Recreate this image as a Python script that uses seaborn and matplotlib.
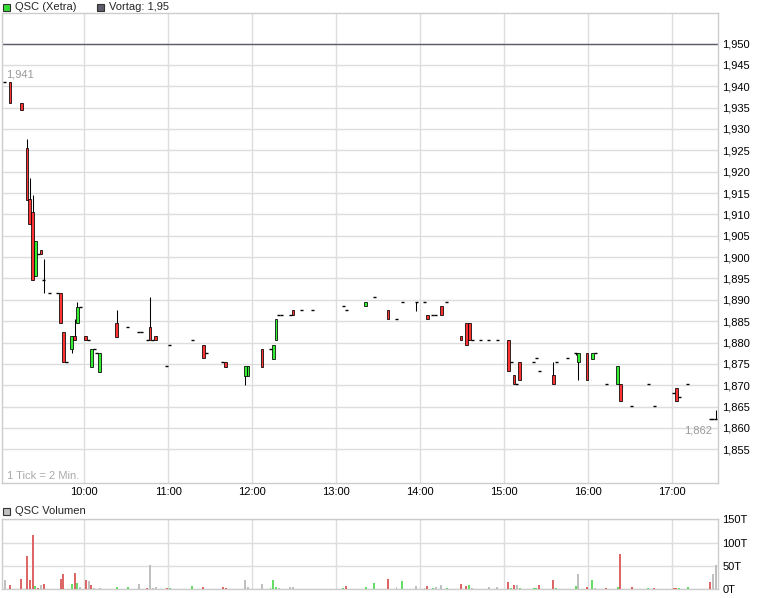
#!/usr/bin/env python3
# coding: utf-8

import matplotlib.pyplot as plt
import matplotlib.patches as mpatches
import seaborn as sns
import pandas as pd

plt.switch_backend('Agg')

# 2-minute bars (start time), QSC Xetra intraday
bar_time = ['09:02', '09:06', '09:14', '09:18', '09:20', '09:22', '09:24', '09:26', '09:28', '09:30',
            '09:34', '09:40', '09:42', '09:44', '09:46', '09:50', '09:52', '09:54', '09:56', '10:00',
            '10:02', '10:04', '10:06', '10:08', '10:10', '10:22', '10:30', '10:38', '10:40', '10:44',
            '10:46', '10:48', '10:50', '10:58', '11:00', '11:16', '11:24', '11:26', '11:38', '11:40',
            '11:54', '11:56', '12:06', '12:12', '12:14', '12:16', '12:18', '12:20', '12:26', '12:28',
            '12:34', '12:42', '13:04', '13:06', '13:20', '13:26', '13:36', '13:42', '13:46', '13:56',
            '14:02', '14:04', '14:08', '14:10', '14:14', '14:18', '14:28', '14:32', '14:34', '14:36',
            '14:42', '14:48', '14:54', '15:02', '15:04', '15:06', '15:08', '15:10', '15:20', '15:22',
            '15:24', '15:34', '15:36', '15:44', '15:50', '15:52', '15:58', '16:02', '16:04', '16:12',
            '16:20', '16:22', '16:30', '16:42', '16:46', '17:00', '17:02', '17:04', '17:10', '17:26',
            '17:28', '17:30']
price_open = [1.941, 1.941, 1.936, 1.9255, 1.9136, 1.9105, 1.8955, 1.9007, 1.9017, 1.8946,
              1.8915, 1.8915, 1.8915, 1.8824, 1.8754, 1.8784, 1.8815, 1.8845, 1.8884, 1.8815,
              1.8805, 1.8743, 1.8784, 1.8775, 1.8732, 1.8845, 1.8836, 1.8824, 1.8824, 1.8805,
              1.8836, 1.8805, 1.8815, 1.8744, 1.8794, 1.8805, 1.8794, 1.8775, 1.8754, 1.8754,
              1.8722, 1.8722, 1.8785, 1.8784, 1.8762, 1.8805, 1.8864, 1.8864, 1.8864, 1.8875,
              1.8875, 1.8875, 1.8885, 1.8875, 1.8885, 1.8906, 1.8875, 1.8854, 1.8894, 1.8894,
              1.8894, 1.8864, 1.8864, 1.8864, 1.8885, 1.8894, 1.8815, 1.8845, 1.8845, 1.8805,
              1.8805, 1.8805, 1.8805, 1.8805, 1.8754, 1.8723, 1.8702, 1.8754, 1.8754, 1.8764,
              1.8733, 1.8723, 1.8754, 1.8764, 1.8775, 1.8754, 1.8775, 1.8762, 1.8775, 1.8702,
              1.8702, 1.8702, 1.8651, 1.8702, 1.8651, 1.8681, 1.8693, 1.8672, 1.8702, 1.862,
              1.862, 1.862]
price_high = [1.941, 1.941, 1.936, 1.9276, 1.9186, 1.9145, 1.9038, 1.9007, 1.9017, 1.8996,
              1.8915, 1.8915, 1.8915, 1.8824, 1.8754, 1.8815, 1.8854, 1.8894, 1.8884, 1.8815,
              1.8805, 1.8784, 1.8784, 1.8775, 1.8775, 1.8876, 1.8836, 1.8824, 1.8824, 1.8805,
              1.8907, 1.8805, 1.8815, 1.8744, 1.8794, 1.8805, 1.8794, 1.8775, 1.8754, 1.8754,
              1.8745, 1.8745, 1.8785, 1.8784, 1.8794, 1.8854, 1.8864, 1.8864, 1.8864, 1.8875,
              1.8875, 1.8875, 1.8885, 1.8875, 1.8894, 1.8906, 1.8875, 1.8854, 1.8894, 1.8894,
              1.8894, 1.8864, 1.8864, 1.8864, 1.8885, 1.8894, 1.8815, 1.8845, 1.8845, 1.8805,
              1.8805, 1.8805, 1.8805, 1.8805, 1.8754, 1.8723, 1.8702, 1.8754, 1.8754, 1.8764,
              1.8733, 1.8754, 1.8754, 1.8764, 1.8775, 1.8775, 1.8775, 1.8775, 1.8775, 1.8702,
              1.8744, 1.8702, 1.8651, 1.8702, 1.8651, 1.8681, 1.8693, 1.8672, 1.8702, 1.862,
              1.862, 1.8642]
price_low = [1.941, 1.936, 1.9345, 1.9134, 1.9077, 1.8946, 1.8955, 1.9007, 1.9007, 1.8915,
             1.8915, 1.8915, 1.8845, 1.8754, 1.8754, 1.8775, 1.8805, 1.8845, 1.8884, 1.8805,
             1.8805, 1.8743, 1.8784, 1.8775, 1.8732, 1.8814, 1.8836, 1.8824, 1.8824, 1.8805,
             1.8805, 1.8805, 1.8805, 1.8744, 1.8794, 1.8805, 1.8763, 1.8775, 1.8754, 1.8743,
             1.8701, 1.8722, 1.8743, 1.8784, 1.8762, 1.8805, 1.8864, 1.8864, 1.8864, 1.8864,
             1.8875, 1.8875, 1.8885, 1.8875, 1.8885, 1.8906, 1.8854, 1.8854, 1.8894, 1.8874,
             1.8894, 1.8854, 1.8864, 1.8864, 1.8864, 1.8894, 1.8805, 1.8794, 1.8805, 1.8805,
             1.8805, 1.8805, 1.8805, 1.8733, 1.8754, 1.8702, 1.8702, 1.8712, 1.8754, 1.8764,
             1.8733, 1.8702, 1.8754, 1.8764, 1.8770, 1.8712, 1.8712, 1.8762, 1.8775, 1.8702,
             1.8702, 1.8662, 1.8651, 1.8702, 1.8651, 1.8681, 1.8662, 1.8672, 1.8702, 1.862,
             1.862, 1.862]
price_close = [1.941, 1.936, 1.9345, 1.9134, 1.9077, 1.8946, 1.9038, 1.9007, 1.9007, 1.8946,
               1.8915, 1.8915, 1.8845, 1.8754, 1.8754, 1.8815, 1.8805, 1.8884, 1.8884, 1.8805,
               1.8805, 1.8784, 1.8784, 1.8775, 1.8775, 1.8814, 1.8836, 1.8824, 1.8824, 1.8805,
               1.8805, 1.8805, 1.8805, 1.8744, 1.8794, 1.8805, 1.8763, 1.8775, 1.8754, 1.8743,
               1.8745, 1.8745, 1.8743, 1.8784, 1.8794, 1.8854, 1.8864, 1.8864, 1.8864, 1.8864,
               1.8875, 1.8875, 1.8885, 1.8875, 1.8894, 1.8906, 1.8854, 1.8854, 1.8894, 1.8894,
               1.8894, 1.8854, 1.8864, 1.8864, 1.8864, 1.8894, 1.8805, 1.8794, 1.8805, 1.8805,
               1.8805, 1.8805, 1.8805, 1.8733, 1.8754, 1.8702, 1.8702, 1.8712, 1.8754, 1.8764,
               1.8733, 1.8702, 1.8754, 1.8764, 1.8775, 1.8775, 1.8712, 1.8775, 1.8775, 1.8702,
               1.8744, 1.8662, 1.8651, 1.8702, 1.8651, 1.8681, 1.8662, 1.8672, 1.8702, 1.862,
               1.862, 1.862]

# volume bars: start time, shares, direction vs previous close (r=down, g=up, n=unchanged)
vol_time = ['09:02', '09:06', '09:14', '09:18', '09:20', '09:22', '09:24', '09:26', '09:28', '09:30',
            '09:42', '09:44', '09:50', '09:52', '09:54', '09:56', '10:00', '10:02', '10:04', '10:06',
            '10:10', '10:22', '10:30', '10:38', '10:44', '10:46', '10:48', '10:50', '10:58', '11:00',
            '11:16', '11:24', '11:38', '11:40', '11:54', '11:56', '12:06', '12:12', '12:14', '12:16',
            '12:18', '12:26', '12:28', '13:04', '13:06', '13:20', '13:26', '13:36', '13:42', '13:46',
            '13:56', '14:02', '14:04', '14:08', '14:10', '14:14', '14:18', '14:28', '14:32', '14:34',
            '14:36', '14:48', '14:54', '15:02', '15:04', '15:06', '15:08', '15:10', '15:20', '15:22',
            '15:24', '15:34', '15:36', '15:50', '15:52', '15:58', '16:02', '16:04', '16:12', '16:20',
            '16:22', '16:30', '16:42', '16:46', '17:00', '17:02', '17:04', '17:10', '17:26', '17:28',
            '17:30']
vol_value = [20000, 9300, 22000, 71400, 20000, 116000, 7000, 2800, 9300, 11400,
             22000, 33000, 11400, 35000, 13600, 5000, 20000, 17900, 9300, 2800,
             2800, 5000, 5000, 11400, 2800, 52000, 2800, 5000, 2800, 2800,
             7000, 5000, 5000, 2800, 20000, 5000, 11400, 2800, 20000, 5000,
             2800, 5000, 5000, 2800, 7000, 5000, 13600, 22000, 5000, 17900,
             7000, 2800, 7000, 2800, 5000, 9300, 2800, 11400, 7000, 9300,
             2800, 5000, 5000, 15700, 2800, 9300, 9300, 2800, 2800, 2800,
             9300, 20000, 2800, 7000, 33000, 5000, 20000, 2800, 2800, 5000,
             75700, 5000, 2800, 2800, 2800, 2800, 2800, 5000, 15700, 33000,
             52000]
vol_dir = ['n', 'r', 'r', 'r', 'r', 'r', 'g', 'r', 'n', 'r',
           'r', 'r', 'g', 'r', 'g', 'n', 'r', 'n', 'r', 'n',
           'n', 'g', 'g', 'n', 'r', 'n', 'n', 'n', 'r', 'g',
           'g', 'r', 'r', 'r', 'n', 'n', 'n', 'g', 'g', 'g',
           'n', 'n', 'n', 'g', 'r', 'g', 'g', 'r', 'n', 'g',
           'n', 'n', 'r', 'g', 'n', 'n', 'g', 'r', 'r', 'g',
           'n', 'n', 'n', 'r', 'g', 'r', 'n', 'g', 'g', 'g',
           'r', 'r', 'g', 'g', 'n', 'r', 'g', 'n', 'r', 'g',
           'r', 'r', 'g', 'r', 'r', 'r', 'g', 'g', 'r', 'n',
           'n']

hour_labels = ['10:00', '11:00', '12:00', '13:00', '14:00', '15:00', '16:00', '17:00']
price_ticks = [1.855, 1.860, 1.865, 1.870, 1.875, 1.880, 1.885, 1.890, 1.895, 1.900,
               1.905, 1.910, 1.915, 1.920, 1.925, 1.930, 1.935, 1.940, 1.945, 1.950]
vol_ticks = [0, 50000, 100000, 150000]
vol_tick_labels = ['0T', '50T', '100T', '150T']
prev_close = 1.95
first_price = 1.941
last_price = 1.862


def minutes(hhmm):
    h, m = hhmm.split(':')
    return (int(h) - 9) * 60 + int(m)


candles = pd.DataFrame({'time': bar_time, 'open': price_open, 'high': price_high,
                        'low': price_low, 'close': price_close})
candles['x'] = candles['time'].map(minutes) + 1   # centre of the 2-min bar
volume = pd.DataFrame({'time': vol_time, 'vol': vol_value, 'dir': vol_dir})
volume['x'] = volume['time'].map(minutes) + 1

sns.set_theme(style='white')
plt.rcParams['font.family'] = ['Liberation Sans', 'DejaVu Sans']

W, H = 760, 598
fig = plt.figure(figsize=(W / 100, H / 100), dpi=100)


def rect(l, t, r, b):
    return [l / W, 1 - b / H, (r - l) / W, (b - t) / H]


ax = fig.add_axes(rect(2.3, 13, 718.3, 483))
axv = fig.add_axes(rect(2.3, 519.3, 718.3, 589.3))

xlim = (1.4, 512.9)
hour_x = [minutes(h) for h in hour_labels]
grid_col = '#dddddd'

for a in (ax, axv):
    a.set_xlim(*xlim)
    a.set_xticks(hour_x)
    a.grid(True, color=grid_col, lw=1)
    a.set_axisbelow(True)
    a.yaxis.tick_right()
    a.tick_params(axis='both', length=0, labelsize=8, colors='black')
    for s in a.spines.values():
        s.set_color('#cccccc')
        s.set_linewidth(1)

# price panel
ax.set_ylim(1.84712, 1.95714)
ax.set_yticks(price_ticks)
ax.set_yticklabels([f'{p:.3f}'.replace('.', ',') for p in price_ticks])
ax.set_xticklabels(hour_labels)
ax.tick_params(axis='y', pad=3)
ax.tick_params(axis='x', pad=3)
ax.axhline(prev_close, color='#5c5c6c', lw=1, zorder=2)

wick = candles[candles['high'] > candles['low']]
ax.vlines(wick['x'], wick['low'], wick['high'], color='black', lw=0.75, zorder=3)

body = candles[candles['open'] != candles['close']]
lo = body[['open', 'close']].min(axis=1)
hi = body[['open', 'close']].max(axis=1)
body_col = ['#33ee33' if c > o else '#ff3333' for o, c in zip(body['open'], body['close'])]
ax.bar(body['x'], hi - lo, bottom=lo, width=1.9, color=body_col,
       edgecolor='black', linewidth=0.55, zorder=4)

flat = candles[candles['open'] == candles['close']]
ax.hlines(flat['close'], flat['x'] - 1.1, flat['x'] + 1.1, color='black', lw=1, zorder=4)

ax.annotate(f'{first_price:.3f}'.replace('.', ','), xy=(xlim[0], first_price),
            xytext=(3.5, 7), textcoords='offset pixels', ha='left', va='center',
            fontsize=8, color='#999999')
ax.annotate(f'{last_price:.3f}'.replace('.', ','), xy=(xlim[1], last_price),
            xytext=(-6, -11), textcoords='offset pixels', ha='right', va='center',
            fontsize=8, color='#999999')
ax.text(0.006, 0.015, '1 Tick = 2 Min.', transform=ax.transAxes,
        ha='left', va='center', fontsize=8, color='#aaaaaa')

# volume panel
vcol = {'r': '#dd6666', 'g': '#66dd66', 'n': '#c0c0c0'}
axv.set_ylim(0, 150000)
axv.set_yticks(vol_ticks)
axv.set_yticklabels(vol_tick_labels)
axv.set_xticklabels([])
axv.tick_params(axis='y', pad=3)
axv.bar(volume['x'], volume['vol'], width=1.4, color=[vcol[d] for d in volume['dir']],
        linewidth=0, zorder=3)


# header legends
def legend_box(x, y, text, face):
    fig.add_artist(mpatches.Rectangle((x / W, 1 - (y + 4) / H), 7 / W, 7 / H,
                                      transform=fig.transFigure, facecolor=face,
                                      edgecolor='#333333', linewidth=0.8))
    fig.text((x + 12) / W, 1 - y / H, text, ha='left', va='center', fontsize=8)


legend_box(3, 7, 'QSC (Xetra)', '#33dd33')
legend_box(97, 7, 'Vortag: 1,95', '#5c5c6c')
legend_box(3, 511, 'QSC Volumen', '#c0c0c0')

fig.savefig('out.png', dpi=100)
